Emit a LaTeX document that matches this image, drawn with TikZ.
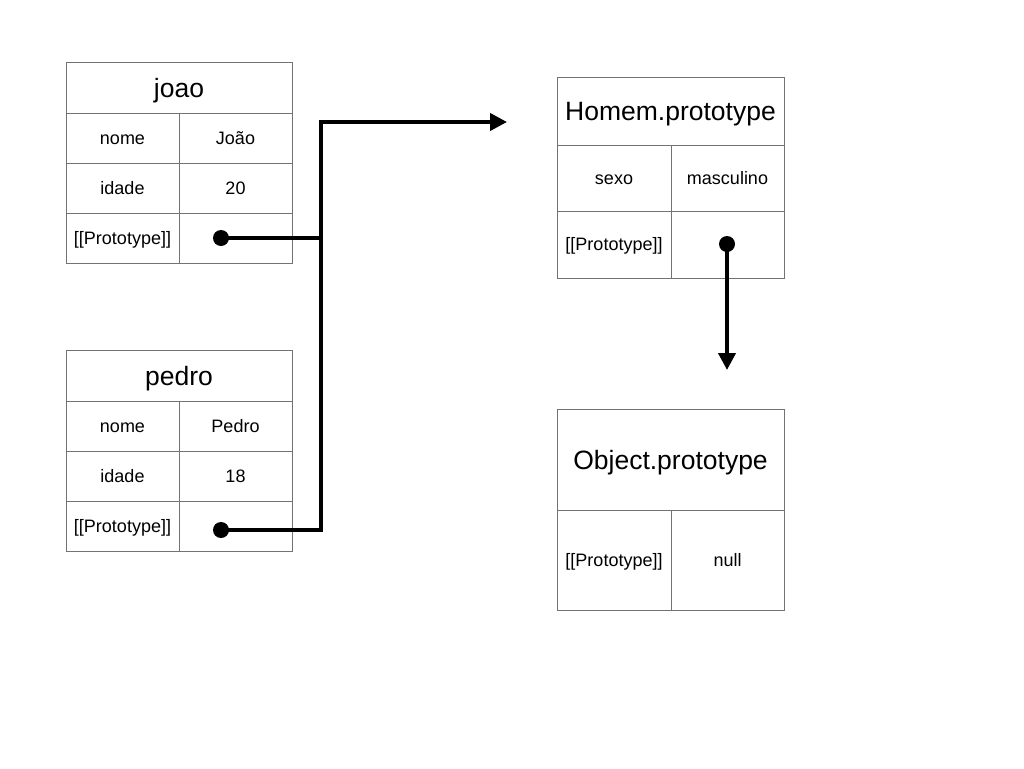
\documentclass[tikz,border=0pt]{standalone}
\usepackage{fontspec}
\setmainfont{Liberation Sans}
\usetikzlibrary{arrows.meta}
\tikzset{
  cell/.style={draw=black!55, line width=0.9pt, anchor=north west, inner sep=0pt, outer sep=0pt, font=\fontsize{18}{21}\selectfont, text height=12.9pt, text depth=0pt},
  titlecell/.style={cell, font=\fontsize{26.5}{31}\selectfont, text height=19pt, text depth=-1pt},
  dot/.style={circle, fill=black, inner sep=0pt, minimum size=16pt},
  conn/.style={line width=4pt, line join=miter},
  arr/.style={conn, -{Triangle[length=17pt,width=17pt]}},
}
\begin{document}
\begin{tikzpicture}[x=1pt,y=-1pt]
\useasboundingbox (0,0) rectangle (1024,768);
% joao
\node[titlecell, minimum width=226pt, minimum height=51pt] (jt) at (66,62) {joao};
\node[cell, minimum width=113pt, minimum height=50pt] (j1a) at (66,113) {nome};
\node[cell, minimum width=113pt, minimum height=50pt] (j1b) at (179,113) {João};
\node[cell, minimum width=113pt, minimum height=50pt] (j2a) at (66,163) {idade};
\node[cell, minimum width=113pt, minimum height=50pt] (j2b) at (179,163) {20};
\node[cell, minimum width=113pt, minimum height=50pt] (j3a) at (66,213) {[[Prototype]]};
\node[cell, minimum width=113pt, minimum height=50pt] (j3b) at (179,213) {};
% pedro
\node[titlecell, minimum width=226pt, minimum height=51pt] (pt) at (66,350) {pedro};
\node[cell, minimum width=113pt, minimum height=50pt] (p1a) at (66,401) {nome};
\node[cell, minimum width=113pt, minimum height=50pt] (p1b) at (179,401) {Pedro};
\node[cell, minimum width=113pt, minimum height=50pt] (p2a) at (66,451) {idade};
\node[cell, minimum width=113pt, minimum height=50pt] (p2b) at (179,451) {18};
\node[cell, minimum width=113pt, minimum height=50pt] (p3a) at (66,501) {[[Prototype]]};
\node[cell, minimum width=113pt, minimum height=50pt] (p3b) at (179,501) {};
% Homem.prototype
\node[titlecell, minimum width=227pt, minimum height=68pt] (ht) at (557,77) {Homem.prototype};
\node[cell, minimum width=114pt, minimum height=66pt] (h1a) at (557,145) {sexo};
\node[cell, minimum width=113pt, minimum height=66pt] (h1b) at (671,145) {masculino};
\node[cell, minimum width=114pt, minimum height=67pt] (h2a) at (557,211) {[[Prototype]]};
\node[cell, minimum width=113pt, minimum height=67pt] (h2b) at (671,211) {};
% Object.prototype
\node[titlecell, minimum width=227pt, minimum height=101pt] (ot) at (557,409) {Object.prototype};
\node[cell, minimum width=114pt, minimum height=100pt] (o1a) at (557,510) {[[Prototype]]};
\node[cell, minimum width=113pt, minimum height=100pt] (o1b) at (671,510) {null};
% dots
\node[dot] (jdot) at (221,238) {};
\node[dot] (pdot) at (221,530) {};
\node[dot] (hdot) at (727,244) {};
% connectors
\coordinate (bend) at (321,122);
\coordinate (tip1) at (507,122);
\coordinate (tip2) at (727,370);
\draw[conn] (jdot.center) -- (jdot.center -| bend);
\draw[arr] (pdot.center) -| (bend) -- (tip1);
\draw[arr] (hdot.center) -- (tip2);
\end{tikzpicture}
\end{document}
